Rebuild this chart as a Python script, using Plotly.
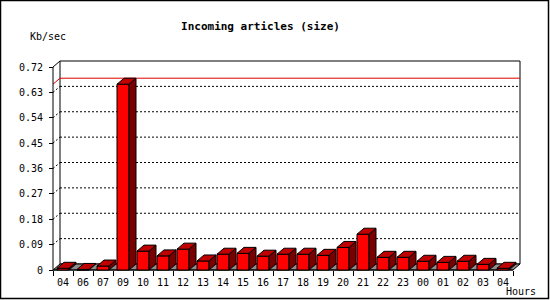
import plotly.graph_objects as go

# ---------------- data ----------------
hours = ["04", "06", "07", "09", "10", "11", "12", "13", "14", "15", "16", "17",
         "18", "19", "20", "21", "22", "23", "00", "01", "02", "03", "04"]
kb_per_sec = [0.006, 0.002, 0.014, 0.659, 0.067, 0.050, 0.074, 0.032, 0.056, 0.059,
              0.049, 0.056, 0.056, 0.052, 0.080, 0.127, 0.045, 0.045, 0.031, 0.027,
              0.031, 0.020, 0.006]
y_ticks = [0, 0.09, 0.18, 0.27, 0.36, 0.45, 0.54, 0.63, 0.72]
y_tick_labels = ["0", "0.09", "0.18", "0.27", "0.36", "0.45", "0.54", "0.63", "0.72"]
title_text = "Incoming articles (size)"
y_title = "Kb/sec"
x_title = "Hours"

# ---------------- geometry (pixels) ----------------
W, H = 550, 300
AX_L, AX_B = 53, 270          # front axis position
SX = 20.0                      # px per category
SY = 203.0 / y_ticks[-1]       # px per unit
DXP, DYP = 7.0, 6.0            # 3D depth offset
PAD = 3
ncat = len(hours)
DX, DY = DXP / SX, DYP / SY
BW = 6.0 / SX                  # half bar width
x_lo, x_hi = -0.5, ncat - 0.5
ymax = y_ticks[-1]

left = AX_L - PAD
right = AX_L + ncat * SX + DXP + PAD
top = AX_B - ymax * SY - DYP - PAD
bottom = AX_B + PAD

xr = [x_lo - PAD / SX, x_lo + (right - AX_L) / SX]
yr = [-PAD / SY, (AX_B - top) / SY]


def pxx(px):
    return (px - left) / (right - left)


def pxy(py):
    return (bottom - py) / (bottom - top)


MONO = "DejaVu Sans Mono"

fig = go.Figure()

# ---------------- bars ----------------
fx, fy, tx, ty, sx, sy = [], [], [], [], [], []
for i, v in enumerate(kb_per_sec):
    a, b = i - BW, i + BW
    fx += [a, b, b, a, a, None]
    fy += [0, 0, v, v, 0, None]
    tx += [a, b, b + DX, a + DX, a, None]
    ty += [v, v, v + DY, v + DY, v, None]
    sx += [b, b + DX, b + DX, b, b, None]
    sy += [0, DY, v + DY, v, 0, None]

for xs, ys, col in [(fx, fy, "#ff0000"), (sx, sy, "#7a0000"), (tx, ty, "#c00000")]:
    fig.add_trace(go.Scatter(x=xs, y=ys, mode="lines", fill="toself", fillcolor=col,
                             line=dict(color="black", width=1), hoverinfo="skip",
                             showlegend=False))

shapes = []
# back plane
shapes.append(dict(type="rect", xref="x", yref="y", x0=x_lo + DX, x1=x_hi + DX,
                   y0=DY, y1=ymax + DY, fillcolor="white",
                   line=dict(color="black", width=1), layer="below"))
# grid lines on back plane and side
for v in y_ticks[1:-1]:
    shapes.append(dict(type="line", xref="x", yref="y", x0=x_lo + DX, x1=x_hi + DX,
                       y0=v + DY, y1=v + DY, line=dict(color="black", width=1, dash="2px,2px"),
                       layer="below"))
    shapes.append(dict(type="line", xref="x", yref="y", x0=x_lo, x1=x_lo + DX,
                       y0=v, y1=v + DY, line=dict(color="black", width=1, dash="2px,2px"),
                       layer="below"))
# max line
vmax = max(kb_per_sec)
shapes.append(dict(type="path", xref="x", yref="y",
                   path=f"M {x_lo},{vmax} L {x_lo + DX},{vmax + DY} L {x_hi + DX},{vmax + DY}",
                   line=dict(color="#dd0000", width=1), layer="below"))
# floor
shapes.append(dict(type="path", xref="x", yref="y",
                   path=f"M {x_lo},0 L {x_hi},0 L {x_hi + DX},{DY} L {x_lo + DX},{DY} Z",
                   fillcolor="#8c8c8c", line=dict(color="black", width=1), layer="below"))
# front axis + top diagonal
shapes.append(dict(type="path", xref="x", yref="y",
                   path=f"M {x_lo},0 L {x_lo},{ymax} L {x_lo + DX},{ymax + DY}",
                   line=dict(color="black", width=1), layer="below"))
shapes.append(dict(type="line", xref="x", yref="y", x0=x_lo, x1=x_hi, y0=0, y1=0,
                   line=dict(color="black", width=1), layer="below"))
# outer border
shapes.append(dict(type="rect", xref="paper", yref="paper",
                   x0=pxx(0.5), x1=pxx(548.5), y0=pxy(298.5), y1=pxy(0.5),
                   line=dict(color="black", width=1.5)))

fig.update_layout(
    width=W, height=H,
    margin=dict(l=left, r=W - right, t=top, b=H - bottom, pad=0),
    paper_bgcolor="white", plot_bgcolor="white",
    shapes=shapes,
    title=dict(text=title_text, x=260.5 / W, xanchor="center", xref="container",
               y=1 - 26.5 / H, yanchor="middle", yref="container",
               font=dict(family=MONO, size=11, color="black", weight="bold")),
    xaxis=dict(range=xr, showgrid=False, zeroline=False, showline=False,
               anchor="free", position=pxy(AX_B),
               tickmode="array", tickvals=list(range(ncat)), ticktext=hours,
               ticks="", ticklabelstandoff=5,
               tickfont=dict(family=MONO, size=10, color="black"),
               minor=dict(tickmode="array", tickvals=[i - 0.5 for i in range(ncat + 1)],
                          ticks="outside", ticklen=5, tickcolor="black", tickwidth=1,
                          showgrid=False)),
    yaxis=dict(range=yr, showgrid=False, zeroline=False, showline=False,
               anchor="free", position=pxx(AX_L),
               tickmode="array", tickvals=y_ticks, ticktext=y_tick_labels,
               ticks="outside", ticklen=4, tickcolor="black", tickwidth=1,
               ticklabelstandoff=4,
               tickfont=dict(family=MONO, size=10, color="black")),
    annotations=[
        dict(text=y_title, xref="paper", yref="paper", x=pxx(28), y=pxy(37),
             xanchor="left", yanchor="middle", showarrow=False,
             font=dict(family=MONO, size=10, color="black")),
        dict(text=x_title, xref="paper", yref="paper", x=pxx(504), y=pxy(291.5),
             xanchor="left", yanchor="middle", showarrow=False,
             font=dict(family=MONO, size=10, color="black")),
    ],
)

fig.write_html("out.html")
